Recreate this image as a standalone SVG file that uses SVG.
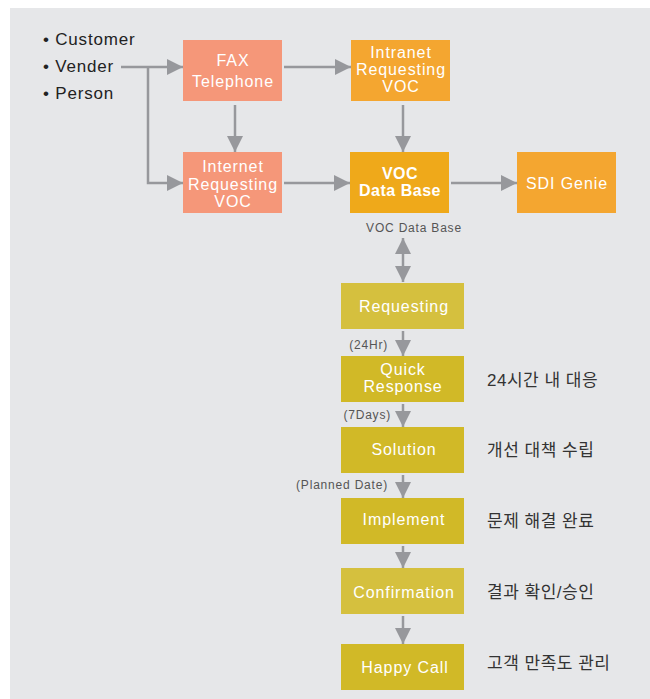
<svg xmlns="http://www.w3.org/2000/svg" width="650" height="699" viewBox="0 0 650 699">
<defs>
<marker id="ah" viewBox="0 0 16 16" refX="16" refY="8" markerWidth="16" markerHeight="16" markerUnits="userSpaceOnUse" orient="auto-start-reverse">
<path d="M0,0 L16,8 L0,16 z" fill="#97989C"/>
</marker>
<style>
.bg{fill:#E6E7E9}
.salmon{fill:#F59779}
.orange{fill:#F4A630}
.db{fill:#EFA91A}
.olive{fill:#D1B927}
.olivel{fill:#D5C03E}
.bt{font-family:"Liberation Sans",Arial,sans-serif;font-size:16px;fill:#fff;text-anchor:middle;letter-spacing:0.9px}
.bb{font-weight:bold;letter-spacing:0.5px}
.lt{font-family:"Liberation Sans",Arial,sans-serif;font-size:17px;fill:#222;letter-spacing:0.8px}
.sm{font-family:"Liberation Sans",Arial,sans-serif;font-size:12px;fill:#555;letter-spacing:0.8px}
.kr{font-family:"Liberation Sans","Noto Sans CJK KR",sans-serif;font-size:17px;fill:#333;letter-spacing:0.5px}
.c{fill:none;stroke:#97989C;stroke-width:2.5}
</style>
</defs>
<rect width="650" height="699" fill="#fff"/>
<rect class="bg" x="10" y="8" width="640" height="691"/>

<g id="sources">
<text class="lt" x="43" y="45">• Customer</text>
<text class="lt" x="43" y="72">• Vender</text>
<text class="lt" x="43" y="99">• Person</text>
</g>

<g id="connectors">
<path class="c" d="M121,67 H183" marker-end="url(#ah)"/>
<path class="c" d="M148,67 V183 H183" marker-end="url(#ah)"/>
<path class="c" d="M284,67 H351" marker-end="url(#ah)"/>
<path class="c" d="M235,105 V152" marker-end="url(#ah)"/>
<path class="c" d="M403,105 V152" marker-end="url(#ah)"/>
<path class="c" d="M284,183 H350" marker-end="url(#ah)"/>
<path class="c" d="M451,183 H517" marker-end="url(#ah)"/>
<path class="c" d="M403,238 V282" marker-start="url(#ah)" marker-end="url(#ah)"/>
<path class="c" d="M403,331 V356" marker-end="url(#ah)"/>
<path class="c" d="M403,404 V427" marker-end="url(#ah)"/>
<path class="c" d="M403,475 V498" marker-end="url(#ah)"/>
<path class="c" d="M403,546 V568" marker-end="url(#ah)"/>
<path class="c" d="M403,616 V644" marker-end="url(#ah)"/>
</g>

<g id="fax">
<rect class="salmon" x="183" y="40" width="99" height="61"/>
<text class="bt" x="233" y="66">FAX</text>
<text class="bt" x="233" y="87">Telephone</text>
</g>
<g id="internet">
<rect class="salmon" x="183" y="152" width="99" height="61"/>
<text class="bt" x="233" y="172">Internet</text>
<text class="bt" x="233" y="190">Requesting</text>
<text class="bt" x="233" y="207">VOC</text>
</g>
<g id="intranet">
<rect class="orange" x="351" y="40" width="99" height="61"/>
<text class="bt" x="401" y="58">Intranet</text>
<text class="bt" x="401" y="75">Requesting</text>
<text class="bt" x="401" y="92">VOC</text>
</g>
<g id="vocdb">
<rect class="db" x="350" y="152" width="99" height="61"/>
<text class="bt bb" x="400" y="179">VOC</text>
<text class="bt bb" x="400" y="196">Data Base</text>
</g>
<g id="sdi">
<rect class="orange" x="517" y="152" width="99" height="61"/>
<text class="bt" x="567" y="189">SDI Genie</text>
</g>

<g id="dblabel">
<text class="sm" x="414" y="232" text-anchor="middle">VOC Data Base</text>
</g>

<g id="requesting">
<rect class="olivel" x="341" y="283" width="123" height="46"/>
<text class="bt" x="404" y="312">Requesting</text>
</g>
<g id="quick">
<rect class="olive" x="341" y="356" width="123" height="46"/>
<text class="bt" x="403" y="375">Quick</text>
<text class="bt" x="403" y="392">Response</text>
</g>
<g id="solution">
<rect class="olive" x="341" y="427" width="123" height="46"/>
<text class="bt" x="404" y="455">Solution</text>
</g>
<g id="implement">
<rect class="olive" x="341" y="498" width="123" height="46"/>
<text class="bt" x="404" y="525">Implement</text>
</g>
<g id="confirmation">
<rect class="olivel" x="341" y="568" width="123" height="46"/>
<text class="bt" x="404" y="598">Confirmation</text>
</g>
<g id="happycall">
<rect class="olive" x="341" y="644" width="123" height="46"/>
<text class="bt" x="405" y="673">Happy Call</text>
</g>

<g id="steplabels">
<text class="sm" x="388" y="349" text-anchor="end">(24Hr)</text>
<text class="sm" x="391" y="419" text-anchor="end">(7Days)</text>
<text class="sm" x="388" y="489" text-anchor="end">(Planned Date)</text>
</g>

<g id="notes">
<text class="kr" x="487" y="386">24시간 내 대응</text>
<text class="kr" x="487" y="456">개선 대책 수립</text>
<text class="kr" x="487" y="527">문제 해결 완료</text>
<text class="kr" x="487" y="598">결과 확인/승인</text>
<text class="kr" x="487" y="669">고객 만족도 관리</text>
</g>
</svg>
